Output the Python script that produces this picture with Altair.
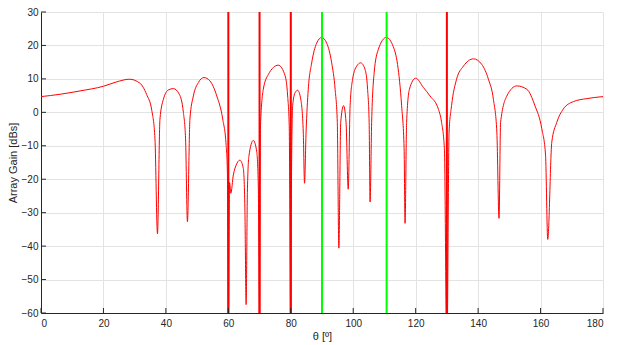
import altair as alt
import pandas as pd

# Array gain curve (theta in degrees, gain in dB)
theta = [0, 6.1, 12.5, 20, 24.2, 28.3, 31.7, 33.8, 35.5, 36.5, 37.3, 38.1, 39.2, 40.8,
         42.4, 44.3, 45.6, 46.3, 46.9, 47.7, 48.8, 50.4, 52.2, 54.1, 56.3, 58.2, 59.3,
         59.7, 60.0, 60.4, 60.8, 61.6, 62.5, 63.7, 64.8, 65.3, 65.7, 66.1, 66.6, 68.0,
         69.1, 69.6, 70.0, 70.3, 71.2, 72.8, 76.0, 78.2, 79.0, 79.5, 80.0, 80.2, 80.6,
         81.4, 82.2, 83.2, 84.0, 84.4, 84.9, 85.6, 86.7, 88.3, 89.9, 91.5, 93.1, 94.2,
         94.9, 95.4, 96.0, 96.9, 97.7, 98.4, 99.0, 99.8, 101.1, 102.4, 103.8, 104.6,
         105.1, 105.4, 105.9, 106.7, 108.0, 110.6, 112.8, 114.2, 115.5, 116.3, 116.6,
         117.1, 118.0, 120.0, 122.5, 124.6, 127.3, 128.3, 129.2, 130.0, 130.7, 131.5,
         133.1, 135.3, 138.5, 141.2, 143.3, 144.9, 146.0, 146.7, 147.2, 149.2, 152.4,
         155.6, 158.2, 160.4, 161.6, 162.3, 163.6, 165.2, 167.3, 170.5, 174.8, 180]
gain = [4.7, 5.4, 6.4, 7.8, 9.1, 9.9, 8.7, 5.4, 0.5, -7.9, -36.3, -2.0, 3.9, 6.7,
        7.1, 5.4, 0.0, -7.9, -32.7, -2.0, 4.9, 8.9, 10.4, 9.4, 4.9, -2.0, -9.9,
        -18.0, -75.0, -21.0, -24.2, -18.7, -15.8, -14.3, -16.8, -28.6, -57.5, -24.0, -13.0, -8.4,
        -11.8, -22.0, -75.0, -4.0, 6.9, 11.3, 14.1, 10.9, 4.9, -4.0, -75.0, -23.7, 2.0,
        5.9, 6.6, 3.9, -5.9, -21.2, -5.9, 6.9, 14.8, 20.7, 22.4, 20.7, 14.8, 6.9,
        -3.0, -40.6, -3.0, 2.0, -3.0, -23.0, 2.0, 9.9, 13.8, 14.8, 12.8, 6.9,
        -3.0, -26.8, -3.0, 11.8, 18.7, 22.4, 19.7, 14.3, 2.0, -10.9, -33.2,
        -3.0, 6.9, 10.2, 7.4, 4.9, 0.9, -3.0, -10.9, -75.0, -5.9, 2.0,
        9.9, 13.8, 16.0, 14.3, 9.9, 3.9, -5.9, -31.7, -3.0, 4.9, 7.9,
        6.9, 2.0, -4.9, -12.8, -38.0, -8.9, -3.0, 1.0, 3.2, 4.1, 4.7]

interferer_angles = [60, 70, 80, 130]
signal_angles = [90, 110.7]

x_ticks = [0, 20, 40, 60, 80, 100, 120, 140, 160, 180]
y_ticks = [-60, -50, -40, -30, -20, -10, 0, 10, 20, 30]

W, H = 562, 301
FONT = "Liberation Sans"

curve_df = pd.DataFrame({"theta": theta, "gain": gain})
red_df = pd.DataFrame({"angle": interferer_angles})
green_df = pd.DataFrame({"angle": signal_angles})
xt_df = pd.DataFrame({"t": x_ticks})
yt_df = pd.DataFrame({"t": y_ticks})

xscale = alt.Scale(domain=[0, 180], nice=False, zero=False)
yscale = alt.Scale(domain=[-60, 30], nice=False, zero=False)

xaxis = alt.Axis(values=x_ticks, title="θ [º]", tickSize=0, labelPadding=5,
                 titlePadding=2, grid=True, labelOverlap=False)
yaxis = alt.Axis(values=y_ticks, title="Array Gain [dBs]", tickSize=0, labelPadding=3,
                 titlePadding=3, grid=True, labelOverlap=False)

base_curve = alt.Chart(curve_df).mark_line(
    color="#ff0000", strokeWidth=1, interpolate="monotone", clip=True
).encode(
    x=alt.X("theta:Q", scale=xscale, axis=xaxis),
    y=alt.Y("gain:Q", scale=yscale, axis=yaxis),
)

red_lines = alt.Chart(red_df).mark_rule(color="#ff0000", strokeWidth=2).encode(
    x=alt.X("angle:Q", scale=xscale, axis=xaxis),
    y=alt.datum(-60, scale=yscale, axis=yaxis),
    y2=alt.datum(30),
)

green_lines = alt.Chart(green_df).mark_rule(color="#00ff00", strokeWidth=2).encode(
    x=alt.X("angle:Q", scale=xscale, axis=xaxis),
    y=alt.datum(-60, scale=yscale, axis=yaxis),
    y2=alt.datum(30),
)

x_tick_marks = alt.Chart(xt_df).mark_rule(color="#262626", strokeWidth=1).encode(
    x=alt.X("t:Q", scale=xscale, axis=xaxis),
    y=alt.value(H),
    y2=alt.value(H - 5),
)

y_tick_marks = alt.Chart(yt_df).mark_rule(color="#262626", strokeWidth=1).encode(
    y=alt.Y("t:Q", scale=yscale, axis=yaxis),
    x=alt.value(0),
    x2=alt.value(5),
)

chart = alt.layer(
    base_curve, red_lines, green_lines, x_tick_marks, y_tick_marks
).properties(
    width=W, height=H,
    autosize=alt.AutoSizeParams(type="none"),
    padding={"left": 33, "top": 4, "right": 20, "bottom": 30},
).configure_view(
    strokeWidth=0
).configure_axis(
    labelFont=FONT, labelFontSize=10, labelColor="#262626",
    titleFont=FONT, titleFontSize=11, titleFontWeight="normal", titleColor="#262626",
    gridColor="#e3e3e3", gridWidth=1,
    domainColor="#262626", domainWidth=1,
)

chart.save("out.html", embed_options={"renderer": "svg", "actions": False})
